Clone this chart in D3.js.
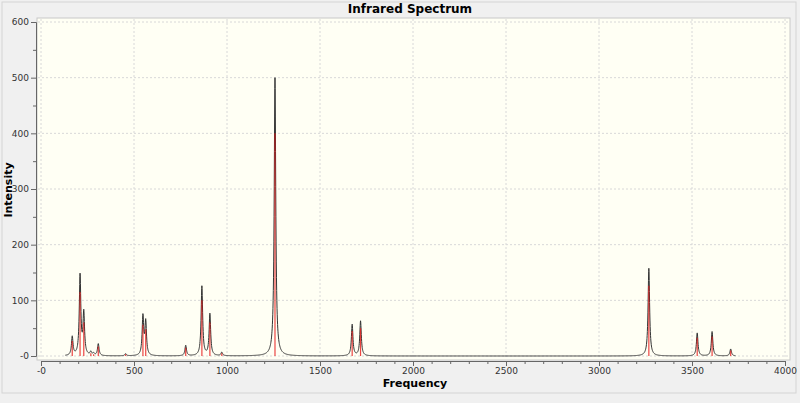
<!DOCTYPE html>
<html>
<head>
<style>
body { margin: 0; background: #f0f0f0; overflow: hidden; }
text { font-family: "DejaVu Sans", sans-serif; }
</style>
<script src="https://d3js.org/d3.v7.min.js"></script>
</head>
<body>
<script>
// stick positions (cm-1) and intensities
const freqs = [168, 210, 230, 268, 283, 308, 455, 548, 563, 778, 865, 908, 972, 1258, 1673, 1718, 3268, 3528, 3608, 3708];
const intens = [27, 115, 60, 5, 3, 17, 3, 56, 48, 15, 100, 60, 5, 400, 45, 50, 126, 33, 35, 10];
const xTicks = [0, 500, 1000, 1500, 2000, 2500, 3000, 3500, 4000];
const yTicks = [0, 100, 200, 300, 400, 500, 600];

const W = 800, H = 403;
const svg = d3.select("body").append("svg").attr("width", W).attr("height", H);

svg.append("rect").attr("x", 2).attr("y", 2).attr("width", W - 6).attr("height", H - 12)
  .attr("fill", "#f0f0f0").attr("stroke", "#d4d4d4");

svg.append("text").attr("x", 410).attr("y", 13).attr("text-anchor", "middle")
  .style("font-size", "12px").style("font-weight", "bold").text("Infrared Spectrum");

const x = d3.scaleLinear().domain([0, 4000]).range([41, 785]);
const y = d3.scaleLinear().domain([0, 600]).range([356, 22]);

// plot area
svg.append("rect").attr("x", 37).attr("y", 18).attr("width", 753).attr("height", 342)
  .attr("fill", "#fffff4").attr("stroke", "#c8c8c8");

// grid
svg.append("g").selectAll("line").data(xTicks).join("line")
  .attr("x1", d => x(d)).attr("x2", d => x(d)).attr("y1", 19).attr("y2", 359)
  .attr("stroke", "#d8d8d8").attr("stroke-dasharray", "2,2");
svg.append("g").selectAll("line").data(yTicks).join("line")
  .attr("x1", 38).attr("x2", 789).attr("y1", d => y(d)).attr("y2", d => y(d))
  .attr("stroke", "#d8d8d8").attr("stroke-dasharray", "2,2");

// axes
const xAxis = svg.append("g").attr("transform", "translate(0,361)")
  .call(d3.axisBottom(x).tickValues(d3.range(0, 4001, 100)).tickSize(4)
    .tickFormat(d => d % 500 === 0 ? (d === 0 ? "-0" : d) : ""));
const yAxis = svg.append("g").attr("transform", "translate(36,0)")
  .call(d3.axisLeft(y).tickValues(d3.range(0, 601, 50)).tickSize(4)
    .tickFormat(d => d % 100 === 0 ? (d === 0 ? "-0" : d) : ""));
[xAxis, yAxis].forEach(a => {
  a.selectAll("path, line").attr("stroke", "#666");
  a.selectAll("text").attr("fill", "#333").style("font-size", "9px");
});
xAxis.selectAll(".tick line").attr("y2", d => d % 500 === 0 ? 5 : 3);
yAxis.selectAll(".tick line").attr("x2", d => d % 100 === 0 ? -5 : -3);

svg.append("text").attr("x", 415).attr("y", 387).attr("text-anchor", "middle")
  .style("font-size", "11px").style("font-weight", "bold").text("Frequency");
svg.append("text").attr("transform", "translate(12,190) rotate(-90)").attr("text-anchor", "middle")
  .style("font-size", "11px").style("font-weight", "bold").text("Intensity");

// Lorentzian broadened curve from the sticks
const gamma = 5, k = 1.25;
const grid = d3.range(130, 3735, 1);
const curve = grid.map(f => [f, k * d3.sum(freqs, (f0, i) => intens[i] * gamma * gamma / ((f - f0) ** 2 + gamma * gamma))]);
svg.append("path").datum(curve)
  .attr("fill", "none").attr("stroke", "#333").attr("stroke-width", 1)
  .attr("d", d3.line().x(d => x(d[0])).y(d => y(d[1])));

svg.append("g").selectAll("line").data(freqs).join("line")
  .attr("x1", d => x(d)).attr("x2", d => x(d))
  .attr("y1", y(0)).attr("y2", (d, i) => y(intens[i]))
  .attr("stroke", "#e81818").attr("stroke-width", 1.2).attr("opacity", 0.8);
</script>
</body>
</html>
